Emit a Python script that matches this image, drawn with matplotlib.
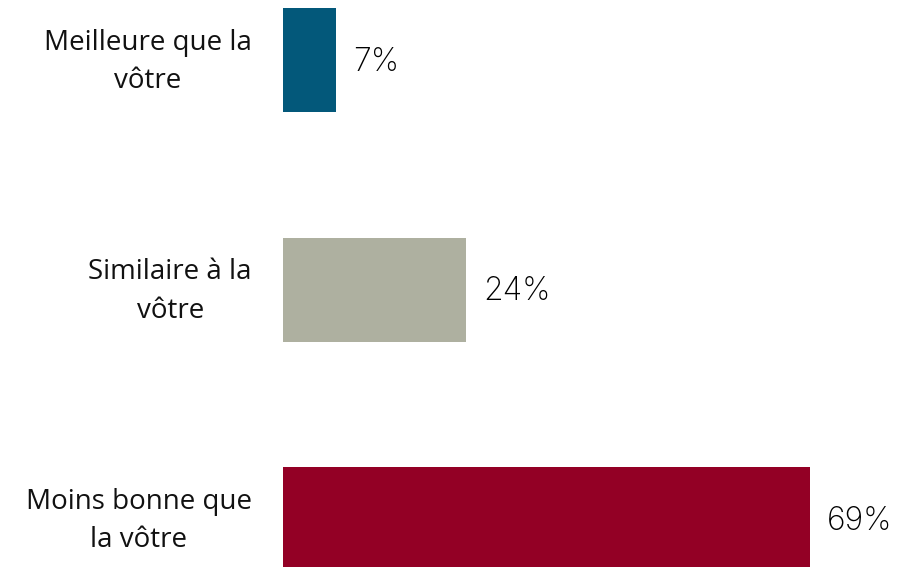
import matplotlib.pyplot as plt

# données du graphique
categories = ["Meilleure que la\nvôtre", "Similaire à la\nvôtre", "Moins bonne que\nla vôtre"]
values = [7, 24, 69]
colors = ["#03587a", "#aeb0a0", "#930025"]

W, H = 901, 567
fig = plt.figure(figsize=(W / 100, H / 100), dpi=100)

# la zone des barres commence à x=283 px, 1 % = 7.64 px
left_px = 283
px_per_pct = 7.64
ax = fig.add_axes([left_px / W, 0, 1 - left_px / W, 1])
ax.set_xlim(0, (W - left_px) / px_per_pct)

spacing = 229.5
top_center = 60
ax.set_ylim((H - top_center) / spacing, -top_center / spacing)

y = list(range(len(values)))
ax.barh(y, values, height=104 / spacing, color=colors)

for yi, v in zip(y, values):
    ax.text(v + 2.2, yi + 0.01, f"{v}%", va="center", ha="left",
            fontsize=23, family="Inter", fontweight="light",
            color="black")

for yi, lab in zip(y, categories):
    fig.text(252 / W, 1 - (top_center + 2 + yi * spacing) / H, lab,
             ha="right", va="center", multialignment="center",
             fontsize=20, family="Open Sans", color="#111111", linespacing=1.5)

ax.axis("off")
fig.savefig("out.png", dpi=100)
